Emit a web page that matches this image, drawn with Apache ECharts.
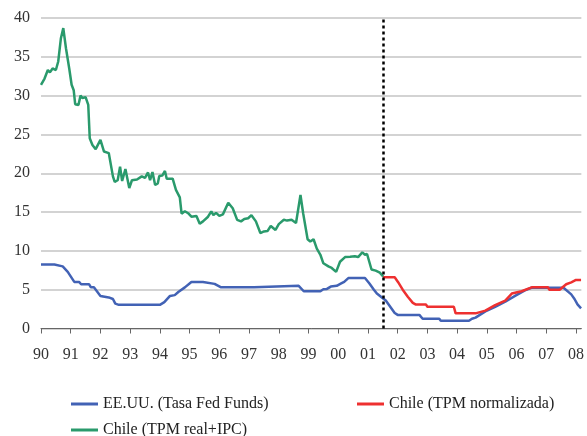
<!DOCTYPE html>
<html>
<head>
<meta charset="utf-8">
<script src="https://cdn.jsdelivr.net/npm/echarts@6/dist/echarts.min.js"></script>
<style>
  html, body { margin: 0; padding: 0; background: #fff; }
  #chart { width: 587px; height: 436px; }
</style>
</head>
<body>
<div id="chart"></div>
<script>
// [año, tasa %]
const fedFunds = [
  [1990.0, 8.25], [1990.45, 8.25], [1990.5, 8.05], [1990.73, 8.0], [1990.9, 7.3], [1991.12, 6.0],
  [1991.28, 6.0], [1991.35, 5.7], [1991.62, 5.7], [1991.68, 5.3], [1991.78, 5.3], [1992.0, 4.2],
  [1992.28, 4.0], [1992.32, 3.8], [1992.42, 3.8], [1992.5, 3.2], [1992.62, 3.05], [1994.0, 3.05],
  [1994.15, 3.4], [1994.34, 4.2], [1994.5, 4.3], [1994.62, 4.7], [1994.84, 5.3], [1995.06, 6.0],
  [1995.45, 6.0], [1995.51, 5.75], [1995.84, 5.75], [1996.06, 5.3], [1997.17, 5.3], [1997.23, 5.5],
  [1998.67, 5.5], [1998.84, 4.8], [1999.4, 4.8], [1999.5, 5.05], [1999.62, 5.1], [1999.75, 5.4],
  [1999.95, 5.5], [2000.1, 5.8], [2000.2, 6.0], [2000.34, 6.5], [2000.9, 6.5], [2001.05, 5.8],
  [2001.2, 5.0], [2001.3, 4.5], [2001.5, 3.9], [2001.6, 3.6], [2001.9, 2.0], [2002.0, 1.75],
  [2002.73, 1.75], [2002.84, 1.26], [2003.4, 1.26], [2003.45, 1.0], [2004.4, 1.0], [2004.5, 1.25],
  [2004.62, 1.4], [2004.95, 2.2], [2005.28, 2.8], [2005.62, 3.45], [2005.95, 4.2], [2006.28, 4.9],
  [2006.5, 5.25], [2007.58, 5.25], [2007.84, 4.4], [2007.95, 3.8], [2008.05, 3.1], [2008.17, 2.6]
]

const tpmNormalizada = [
  [2001.5, 6.6], [2001.9, 6.6], [2002.01, 6.0], [2002.17, 5.0], [2002.34, 4.1], [2002.51, 3.3],
  [2002.6, 3.1], [2002.95, 3.1], [2003.0, 2.8], [2003.89, 2.8], [2003.95, 1.95], [2004.62, 1.95],
  [2004.95, 2.3], [2005.28, 3.0], [2005.62, 3.6], [2005.84, 4.5], [2006.17, 4.8], [2006.51, 5.3],
  [2007.06, 5.3], [2007.1, 5.0], [2007.45, 5.0], [2007.67, 5.7], [2007.84, 5.95], [2008.0, 6.25],
  [2008.17, 6.25]
]

const tpmRealIpc = [
  [1990.0, 31.4], [1990.12, 32.2], [1990.23, 33.3], [1990.3, 33.0], [1990.39, 33.5], [1990.5, 33.3],
  [1990.58, 34.4], [1990.67, 37.4], [1990.75, 38.7], [1990.84, 36.1], [1990.95, 33.5], [1991.03, 31.4],
  [1991.1, 30.7], [1991.15, 28.9], [1991.26, 28.8], [1991.33, 30.0], [1991.39, 29.7], [1991.5, 29.8],
  [1991.59, 28.8], [1991.64, 24.5], [1991.73, 23.65], [1991.84, 23.1], [1992.0, 24.3], [1992.12, 22.8],
  [1992.28, 22.6], [1992.42, 19.6], [1992.48, 18.9], [1992.58, 19.1], [1992.66, 20.85], [1992.73, 19.0],
  [1992.84, 20.55], [1992.97, 18.1], [1993.06, 19.1], [1993.23, 19.2], [1993.39, 19.6], [1993.5, 19.4],
  [1993.6, 20.1], [1993.67, 19.1], [1993.75, 20.15], [1993.84, 18.5], [1993.93, 18.7], [1993.98, 19.65],
  [1994.08, 19.7], [1994.17, 20.3], [1994.23, 19.3], [1994.43, 19.3], [1994.54, 17.85], [1994.67, 16.9],
  [1994.73, 14.8], [1994.84, 15.1], [1994.95, 14.85], [1995.06, 14.4], [1995.23, 14.5], [1995.34, 13.5],
  [1995.45, 13.8], [1995.5, 13.9], [1995.62, 14.4], [1995.73, 15.1], [1995.8, 14.6], [1995.89, 14.9],
  [1996.0, 14.5], [1996.12, 14.7], [1996.3, 16.2], [1996.45, 15.5], [1996.6, 14.0], [1996.73, 13.8],
  [1996.84, 14.1], [1996.97, 14.2], [1997.08, 14.6], [1997.23, 13.8], [1997.38, 12.3], [1997.5, 12.5],
  [1997.62, 12.55], [1997.73, 13.2], [1997.89, 12.7], [1998.0, 13.45], [1998.17, 14.0], [1998.28, 13.9],
  [1998.43, 14.0], [1998.58, 13.6], [1998.73, 17.2], [1998.82, 14.85], [1998.97, 11.5], [1999.06, 11.2],
  [1999.17, 11.5], [1999.28, 10.3], [1999.4, 9.5], [1999.5, 8.4], [1999.67, 8.0], [1999.78, 7.8],
  [1999.93, 7.3], [2000.06, 8.6], [2000.23, 9.2], [2000.4, 9.25], [2000.56, 9.3], [2000.67, 9.2],
  [2000.81, 9.8], [2000.9, 9.5], [2000.97, 9.6], [2001.12, 7.6], [2001.26, 7.45], [2001.4, 7.2],
  [2001.51, 6.7]
]

const seriesNames = ['EE.UU. (Tasa Fed Funds)', 'Chile (TPM normalizada)', 'Chile (TPM real+IPC)']
const corte = 2001.5  // linea punteada

const font = 'Liberation Serif'
const chart = echarts.init(document.getElementById('chart'))

const legendBase = {
  icon: 'rect',
  itemWidth: 27,
  itemHeight: 3,
  itemGap: 3,
  textStyle: { fontFamily: font, fontSize: 16, color: '#222' },
  selectedMode: false
}

function line(name, data, color) {
  return {
    name: name,
    type: 'line',
    data: data,
    showSymbol: false,
    symbol: 'none',
    lineStyle: { color: color, width: 2.5 },
    itemStyle: { color: color }
  }
}

const green = line(seriesNames[2], tpmRealIpc, '#2a9a6c')
green.markLine = {
  silent: true,
  symbol: 'none',
  label: { show: false },
  lineStyle: { color: '#000', width: 2.5, type: [3, 3] },
  data: [{ xAxis: corte }]
}

chart.setOption({
  animation: false,
  textStyle: { fontFamily: font },
  grid: { left: 41, right: 0, top: 18, bottom: 107.5, containLabel: false },
  legend: [
    Object.assign({ left: 66, top: 391, data: [seriesNames[0]] }, legendBase),
    Object.assign({ left: 352, top: 391, data: [seriesNames[1]] }, legendBase),
    Object.assign({ left: 66, top: 417, data: [seriesNames[2]] }, legendBase)
  ],
  xAxis: {
    type: 'value',
    min: 1990,
    max: 2008.18,
    interval: 1,
    axisLine: { lineStyle: { color: '#666', width: 1 } },
    axisTick: { show: true, length: 5, lineStyle: { color: '#666' } },
    axisLabel: {
      margin: 18,
      fontSize: 16,
      color: '#333',
      fontFamily: font,
      formatter: v => String(Math.round(v) % 100).padStart(2, '0')
    },
    splitLine: { show: false }
  },
  yAxis: {
    type: 'value',
    min: 0,
    max: 40,
    interval: 5,
    axisLine: { show: false },
    axisTick: { show: false },
    axisLabel: { margin: 11, fontSize: 16, color: '#333', fontFamily: font },
    splitLine: { lineStyle: { color: '#c4c4c4', width: 1.5 } }
  },
  series: [
    line(seriesNames[0], fedFunds, '#4262b5'),
    line(seriesNames[1], tpmNormalizada, '#ee3030'),
    green
  ]
})
</script>
</body>
</html>
